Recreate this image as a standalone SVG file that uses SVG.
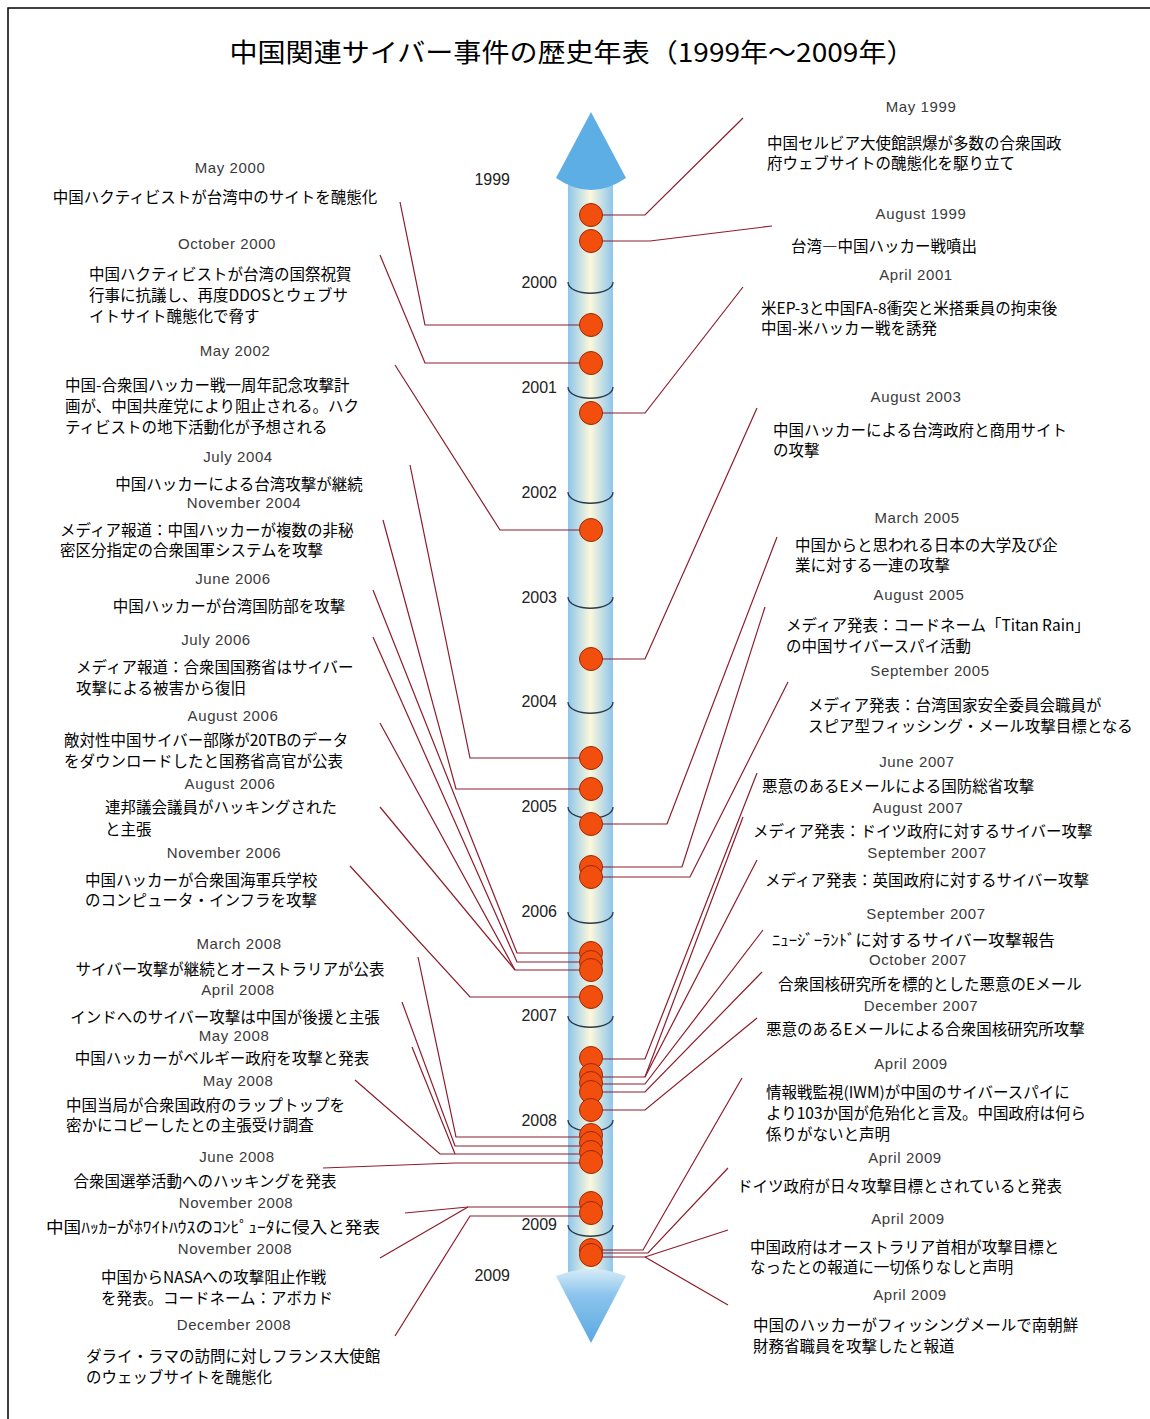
<svg xmlns="http://www.w3.org/2000/svg" width="1150" height="1419" viewBox="0 0 1150 1419">
<defs>
<linearGradient id="barG" x1="0" y1="0" x2="1" y2="0">
<stop offset="0" stop-color="#8ec6ec"/>
<stop offset="0.5" stop-color="#fcf8dc"/>
<stop offset="1" stop-color="#8ec6ec"/>
</linearGradient>
<linearGradient id="botG" x1="0" y1="0" x2="0" y2="1">
<stop offset="0" stop-color="#d6ecf8"/>
<stop offset="0.35" stop-color="#8cc4ec"/>
<stop offset="1" stop-color="#5aa8e2"/>
</linearGradient>
<style>
.d{font-family:"Liberation Sans",Arial,sans-serif;font-size:15px;fill:#3a3a3a;text-anchor:middle;letter-spacing:0.6px}
.t{font-family:"Noto Sans CJK JP","Noto Sans CJK SC",sans-serif;font-size:15.5px;fill:#000}
.m{text-anchor:middle}
.y{font-family:"Liberation Sans",Arial,sans-serif;font-size:16px;fill:#222;text-anchor:end}
.c{fill:none;stroke:#8c1c2c;stroke-width:1.2}
.dot{fill:#f24e0e;stroke:#9a2a08;stroke-width:1}
.tick{fill:none;stroke:#2a3a4a;stroke-width:1.3}
</style>
</defs>
<rect x="0" y="0" width="1150" height="1419" fill="#fff"/>
<rect x="8" y="8" width="1200" height="1500" fill="none" stroke="#000" stroke-width="1.5"/>
<text x="572" y="62" font-family="'Noto Sans CJK JP',sans-serif" font-size="26" textLength="685" lengthAdjust="spacingAndGlyphs" text-anchor="middle">中国関連サイバー事件の歴史年表（1999年～2009年）</text>

<g id="axis">
<rect x="568" y="180" width="45" height="1100" fill="url(#barG)"/>
<path d="M591,112 L626,178 Q591,202 556,178 Z" fill="#5eaee6"/>
<path d="M556,1276 Q591,1262 626,1276 L591,1343 Z" fill="url(#botG)"/>
<path class="tick" d="M568,282 C568,297 613,297 613,282"/>
<path class="tick" d="M568,387 C568,402 613,402 613,387"/>
<path class="tick" d="M568,492 C568,507 613,507 613,492"/>
<path class="tick" d="M568,597 C568,612 613,612 613,597"/>
<path class="tick" d="M568,702 C568,717 613,717 613,702"/>
<path class="tick" d="M568,807 C568,822 613,822 613,807"/>
<path class="tick" d="M568,912 C568,927 613,927 613,912"/>
<path class="tick" d="M568,1016 C568,1031 613,1031 613,1016"/>
<path class="tick" d="M568,1120 C568,1135 613,1135 613,1120"/>
<path class="tick" d="M568,1225 C568,1240 613,1240 613,1225"/>
<text class="y" x="510" y="185">1999</text>
<text class="y" x="557" y="288">2000</text>
<text class="y" x="557" y="393">2001</text>
<text class="y" x="557" y="498">2002</text>
<text class="y" x="557" y="603">2003</text>
<text class="y" x="557" y="707">2004</text>
<text class="y" x="557" y="812">2005</text>
<text class="y" x="557" y="917">2006</text>
<text class="y" x="557" y="1021">2007</text>
<text class="y" x="557" y="1126">2008</text>
<text class="y" x="557" y="1230">2009</text>
<text class="y" x="510" y="1281">2009</text>
</g>

<g id="connectors">
<polyline class="c" points="400,202 425,325 591,325"/>
<polyline class="c" points="380,255 425,363 591,363"/>
<polyline class="c" points="395,365 500,530 591,530"/>
<polyline class="c" points="410,465 470,758 591,758"/>
<polyline class="c" points="383,520 456,789 591,789"/>
<polyline class="c" points="373,590 517,953 591,953"/>
<polyline class="c" points="373,637 517,962 591,962"/>
<polyline class="c" points="380,723 515,970 591,970"/>
<polyline class="c" points="380,807 515,970"/>
<polyline class="c" points="350,866 470,997 591,997"/>
<polyline class="c" points="418,957 456,1137 591,1137"/>
<polyline class="c" points="402,1002 455,1146 591,1146"/>
<polyline class="c" points="412,1047 455,1154 591,1154"/>
<polyline class="c" points="355,1080 440,1154 455,1154"/>
<polyline class="c" points="323,1168 455,1163 591,1163"/>
<polyline class="c" points="405,1213 468,1207 591,1207"/>
<polyline class="c" points="380,1258 468,1207"/>
<polyline class="c" points="395,1336 470,1216 591,1216"/>
<polyline class="c" points="591,215 645,215 743,118"/>
<polyline class="c" points="591,241 650,241 772,226"/>
<polyline class="c" points="591,413 645,413 743,287"/>
<polyline class="c" points="591,659 645,659 757,408"/>
<polyline class="c" points="591,824 667,824 777,537"/>
<polyline class="c" points="591,867 682,867 765,607"/>
<polyline class="c" points="591,877 690,877 788,682"/>
<polyline class="c" points="591,1059 645,1059 757,773"/>
<polyline class="c" points="591,1077 645,1077 743,817"/>
<polyline class="c" points="645,1077 757,860"/>
<polyline class="c" points="591,1084 645,1084 763,930"/>
<polyline class="c" points="591,1092 645,1092 762,972"/>
<polyline class="c" points="591,1110 645,1110 757,1018"/>
<polyline class="c" points="591,1250 643,1250 742,1078"/>
<polyline class="c" points="591,1253 648,1253 728,1168"/>
<polyline class="c" points="591,1257 645,1257 728,1230"/>
<polyline class="c" points="645,1257 728,1305"/>
</g>

<g id="dots">
<circle class="dot" cx="591" cy="215" r="11.5"/>
<circle class="dot" cx="591" cy="241" r="11.5"/>
<circle class="dot" cx="591" cy="325" r="11.5"/>
<circle class="dot" cx="591" cy="363" r="11.5"/>
<circle class="dot" cx="591" cy="413" r="11.5"/>
<circle class="dot" cx="591" cy="530" r="11.5"/>
<circle class="dot" cx="591" cy="659" r="11.5"/>
<circle class="dot" cx="591" cy="758" r="11.5"/>
<circle class="dot" cx="591" cy="789" r="11.5"/>
<circle class="dot" cx="591" cy="824" r="11.5"/>
<circle class="dot" cx="591" cy="867" r="11.5"/>
<circle class="dot" cx="591" cy="877" r="11.5"/>
<circle class="dot" cx="591" cy="953" r="11.5"/>
<circle class="dot" cx="591" cy="962" r="11.5"/>
<circle class="dot" cx="591" cy="970" r="11.5"/>
<circle class="dot" cx="591" cy="997" r="11.5"/>
<circle class="dot" cx="591" cy="1058" r="11.5"/>
<circle class="dot" cx="591" cy="1075" r="11.5"/>
<circle class="dot" cx="591" cy="1083" r="11.5"/>
<circle class="dot" cx="591" cy="1092" r="11.5"/>
<circle class="dot" cx="591" cy="1110" r="11.5"/>
<circle class="dot" cx="591" cy="1135" r="11.5"/>
<circle class="dot" cx="591" cy="1143" r="11.5"/>
<circle class="dot" cx="591" cy="1152" r="11.5"/>
<circle class="dot" cx="591" cy="1162" r="11.5"/>
<circle class="dot" cx="591" cy="1203" r="11.5"/>
<circle class="dot" cx="591" cy="1213" r="11.5"/>
<circle class="dot" cx="591" cy="1250" r="11.5"/>
<circle class="dot" cx="591" cy="1255" r="11.5"/>
</g>

<g id="ev-l01"><text class="d" x="230" y="173">May 2000</text><text class="t m" x="215" y="203">中国ハクティビストが台湾中のサイトを醜態化</text></g>
<g id="ev-l02"><text class="d" x="227" y="249">October 2000</text><text class="t" x="89" y="280">中国ハクティビストが台湾の国祭祝賀</text><text class="t" x="89" y="301">行事に抗議し、再度DDOSとウェブサ</text><text class="t" x="89" y="322">イトサイト醜態化で脅す</text></g>
<g id="ev-l03"><text class="d" x="235" y="356">May 2002</text><text class="t" x="65" y="391">中国-合衆国ハッカー戦一周年記念攻撃計</text><text class="t" x="65" y="412">画が、中国共産党により阻止される。ハク</text><text class="t" x="65" y="433">ティビストの地下活動化が予想される</text></g>
<g id="ev-l04"><text class="d" x="238" y="462">July 2004</text><text class="t m" x="239" y="490">中国ハッカーによる台湾攻撃が継続</text></g>
<g id="ev-l05"><text class="d" x="244" y="508">November 2004</text><text class="t" x="60" y="536">メディア報道：中国ハッカーが複数の非秘</text><text class="t" x="60" y="556">密区分指定の合衆国軍システムを攻撃</text></g>
<g id="ev-l06"><text class="d" x="233" y="584">June 2006</text><text class="t m" x="229" y="612">中国ハッカーが台湾国防部を攻撃</text></g>
<g id="ev-l07"><text class="d" x="216" y="645">July 2006</text><text class="t" x="76" y="673">メディア報道：合衆国国務省はサイバー</text><text class="t" x="76" y="694">攻撃による被害から復旧</text></g>
<g id="ev-l08"><text class="d" x="233" y="721">August 2006</text><text class="t" x="64" y="746">敵対性中国サイバー部隊が20TBのデータ</text><text class="t" x="64" y="767">をダウンロードしたと国務省高官が公表</text></g>
<g id="ev-l09"><text class="d" x="230" y="789">August 2006</text><text class="t" x="105" y="813">連邦議会議員がハッキングされた</text><text class="t" x="105" y="835">と主張</text></g>
<g id="ev-l10"><text class="d" x="224" y="858">November 2006</text><text class="t" x="85" y="886">中国ハッカーが合衆国海軍兵学校</text><text class="t" x="85" y="906">のコンピュータ・インフラを攻撃</text></g>
<g id="ev-l11"><text class="d" x="239" y="949">March 2008</text><text class="t m" x="230" y="975">サイバー攻撃が継続とオーストラリアが公表</text></g>
<g id="ev-l12"><text class="d" x="238" y="995">April 2008</text><text class="t m" x="225" y="1023">インドへのサイバー攻撃は中国が後援と主張</text></g>
<g id="ev-l13"><text class="d" x="234" y="1041">May 2008</text><text class="t m" x="222" y="1064">中国ハッカーがベルギー政府を攻撃と発表</text></g>
<g id="ev-l14"><text class="d" x="238" y="1086">May 2008</text><text class="t" x="66" y="1111">中国当局が合衆国政府のラップトップを</text><text class="t" x="66" y="1131">密かにコピーしたとの主張受け調査</text></g>
<g id="ev-l15"><text class="d" x="237" y="1162">June 2008</text><text class="t m" x="205" y="1187">合衆国選挙活動へのハッキングを発表</text></g>
<g id="ev-l16"><text class="d" x="236" y="1208">November 2008</text><text class="t" x="46" y="1233" textLength="334" lengthAdjust="spacingAndGlyphs">中国ﾊｯｶｰがﾎﾜｲﾄﾊｳｽのｺﾝﾋﾟｭｰﾀに侵入と発表</text></g>
<g id="ev-l17"><text class="d" x="235" y="1254">November 2008</text><text class="t" x="101" y="1283">中国からNASAへの攻撃阻止作戦</text><text class="t" x="101" y="1304">を発表。コードネーム：アボカド</text></g>
<g id="ev-l18"><text class="d" x="234" y="1330">December 2008</text><text class="t" x="86" y="1362">ダライ・ラマの訪問に対しフランス大使館</text><text class="t" x="86" y="1383">のウェッブサイトを醜態化</text></g>

<g id="ev-r01"><text class="d" x="921" y="112">May 1999</text><text class="t" x="767" y="149">中国セルビア大使館誤爆が多数の合衆国政</text><text class="t" x="767" y="169">府ウェブサイトの醜態化を駆り立て</text></g>
<g id="ev-r02"><text class="d" x="921" y="219">August 1999</text><text class="t" x="791" y="252">台湾―中国ハッカー戦噴出</text></g>
<g id="ev-r03"><text class="d" x="916" y="280">April 2001</text><text class="t" x="761" y="314">米EP-3と中国FA-8衝突と米搭乗員の拘束後</text><text class="t" x="761" y="334">中国-米ハッカー戦を誘発</text></g>
<g id="ev-r04"><text class="d" x="916" y="402">August 2003</text><text class="t" x="773" y="436">中国ハッカーによる台湾政府と商用サイト</text><text class="t" x="773" y="456">の攻撃</text></g>
<g id="ev-r05"><text class="d" x="917" y="523">March 2005</text><text class="t" x="795" y="551">中国からと思われる日本の大学及び企</text><text class="t" x="795" y="571">業に対する一連の攻撃</text></g>
<g id="ev-r06"><text class="d" x="919" y="600">August 2005</text><text class="t" x="786" y="631">メディア発表：コードネーム「Titan Rain」</text><text class="t" x="786" y="652">の中国サイバースパイ活動</text></g>
<g id="ev-r07"><text class="d" x="930" y="676">September 2005</text><text class="t" x="808" y="711">メディア発表：台湾国家安全委員会職員が</text><text class="t" x="808" y="732">スピア型フィッシング・メール攻撃目標となる</text></g>
<g id="ev-r08"><text class="d" x="917" y="767">June 2007</text><text class="t" x="762" y="792">悪意のあるEメールによる国防総省攻撃</text></g>
<g id="ev-r09"><text class="d" x="918" y="813">August 2007</text><text class="t" x="753" y="837">メディア発表：ドイツ政府に対するサイバー攻撃</text></g>
<g id="ev-r10"><text class="d" x="927" y="858">September 2007</text><text class="t" x="765" y="886">メディア発表：英国政府に対するサイバー攻撃</text></g>
<g id="ev-r11"><text class="d" x="926" y="919">September 2007</text><text class="t" x="772" y="946" textLength="283" lengthAdjust="spacingAndGlyphs">ﾆｭｰｼﾞｰﾗﾝﾄﾞに対するサイバー攻撃報告</text></g>
<g id="ev-r12"><text class="d" x="918" y="965">October 2007</text><text class="t" x="778" y="990">合衆国核研究所を標的とした悪意のEメール</text></g>
<g id="ev-r13"><text class="d" x="921" y="1011">December 2007</text><text class="t" x="766" y="1035">悪意のあるEメールによる合衆国核研究所攻撃</text></g>
<g id="ev-r14"><text class="d" x="911" y="1069">April 2009</text><text class="t" x="766" y="1098">情報戦監視(IWM)が中国のサイバースパイに</text><text class="t" x="766" y="1119">より103か国が危殆化と言及。中国政府は何ら</text><text class="t" x="766" y="1140">係りがないと声明</text></g>
<g id="ev-r15"><text class="d" x="905" y="1163">April 2009</text><text class="t" x="737" y="1192">ドイツ政府が日々攻撃目標とされていると発表</text></g>
<g id="ev-r16"><text class="d" x="908" y="1224">April 2009</text><text class="t" x="750" y="1253">中国政府はオーストラリア首相が攻撃目標と</text><text class="t" x="750" y="1273">なったとの報道に一切係りなしと声明</text></g>
<g id="ev-r17"><text class="d" x="910" y="1300">April 2009</text><text class="t" x="753" y="1331">中国のハッカーがフィッシングメールで南朝鮮</text><text class="t" x="753" y="1352">財務省職員を攻撃したと報道</text></g>
</svg>
